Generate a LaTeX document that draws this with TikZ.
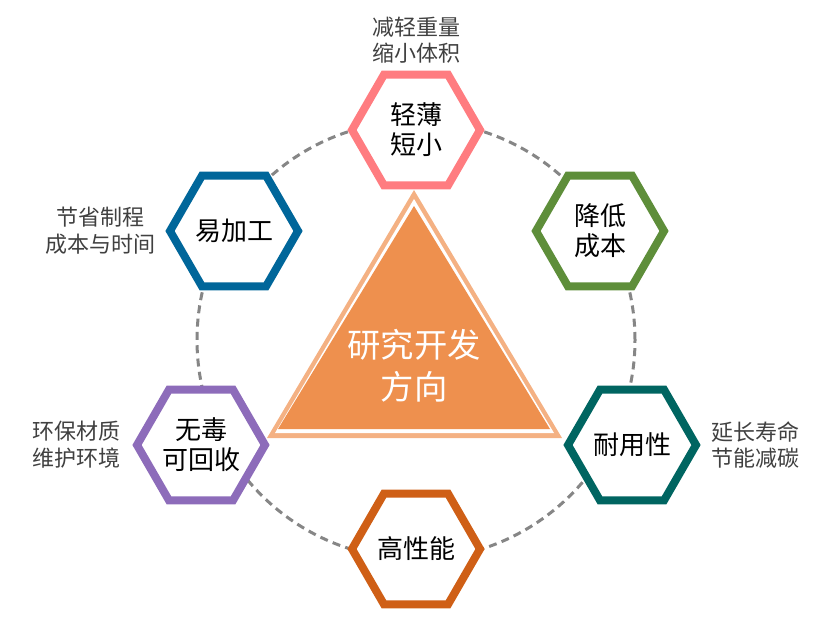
\documentclass[tikz,border=0pt]{standalone}
\usepackage{fontspec}
\setmainfont{Noto Sans CJK SC}
\usepackage{xcolor}
\usetikzlibrary{positioning,shapes.geometric}
\definecolor{cpink}{HTML}{FF7C80}
\definecolor{cblue}{HTML}{00669A}
\definecolor{cgreen}{HTML}{5E8E3A}
\definecolor{cpurple}{HTML}{8D6CBA}
\definecolor{cteal}{HTML}{006561}
\definecolor{corange}{HTML}{CF5F16}
\definecolor{trifill}{HTML}{EE904E}
\definecolor{triedge}{HTML}{F4B183}
\definecolor{ltext}{HTML}{404040}

\begin{document}
\begin{tikzpicture}[x=0.75pt, y=-0.75pt, node distance=5pt and 7pt,
  hexa/.style={regular polygon, regular polygon sides=6, minimum size=96pt,
    inner sep=0pt, line width=6pt, fill=white, align=center,
    font=\fontsize{19.5pt}{22.5pt}\selectfont},
  note/.style={align=center, inner sep=0pt, text=ltext,
    font=\fontsize{16.5pt}{20pt}\selectfont},
  ring/.style={draw=gray!95, line width=2.25pt, dash pattern=on 6pt off 4pt}]
\useasboundingbox (0,0) rectangle (834,624);
\coordinate (o) at (416,340);
\draw[ring] (o) circle[radius=164.25pt];
% centre triangle
\fill[triedge] (414,190) -- (562,438) -- (267,438) -- cycle;
\fill[white] (414,199) -- (554,433) -- (275,433) -- cycle;
\fill[trifill] (414,206) -- (550,429) -- (278,429) -- cycle;
\node[align=center, text=white, inner sep=0pt,
  font=\fontsize{25pt}{31.5pt}\selectfont] (dir) at (414,366) {研究开发\\方向};
% six directions
\node[hexa, draw=cpink] (light) at (416,130) {轻薄\\短小};
\node[hexa, draw=cgreen] (cost) at (600,231) {降低\\成本};
\node[hexa, draw=cteal] (dur) at (632,445) {耐用性};
\node[hexa, draw=corange] (perf) at (416,549) {高性能};
\node[hexa, draw=cpurple] (eco) at (201,445) {无毒\\可回收};
\node[hexa, draw=cblue] (proc) at (234,231) {易加工};
\node[note, above=of light] (lightn) {减轻重量\\缩小体积};
\node[note, left=of proc] (procn) {节省制程\\成本与时间};
\node[note, left=9pt of eco] (econ) {环保材质\\维护环境};
\node[note, right=8pt of dur] (durn) {延长寿命\\节能减碳};
\end{tikzpicture}
\end{document}
